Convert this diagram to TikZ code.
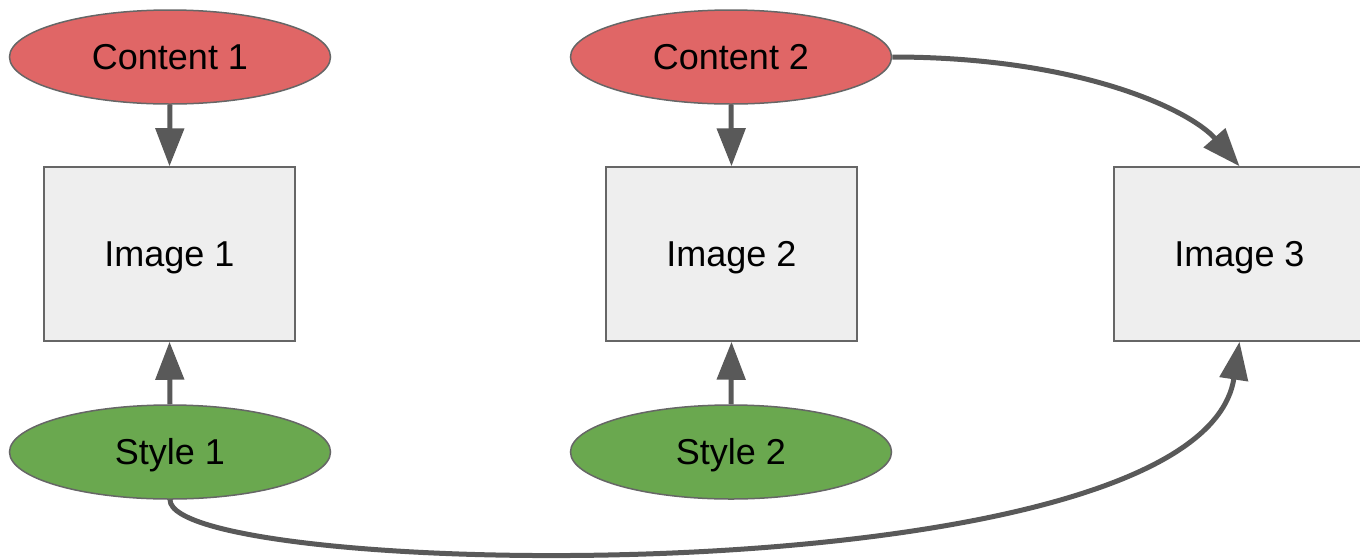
\documentclass[tikz,border=0pt]{standalone}
\usepackage{fontspec}
\setmainfont{Liberation Sans}
\usetikzlibrary{shapes.geometric,arrows.meta}
\definecolor{contentred}{HTML}{E06666}
\definecolor{stylegreen}{HTML}{6AA84F}
\definecolor{imagegray}{HTML}{EEEEEE}
\definecolor{edgegray}{HTML}{595959}
\definecolor{bordergray}{HTML}{666666}
\begin{document}
\begin{tikzpicture}[x=1pt,y=-1pt,
  every node/.style={font=\fontsize{36}{40}\selectfont, text=black, text height=25.8pt, text depth=0pt},
  oval/.style={ellipse, draw=bordergray, line width=1.5pt, minimum width=321pt, minimum height=94pt, inner sep=0pt},
  contentnode/.style={oval, fill=contentred},
  stylenode/.style={oval, fill=stylegreen},
  imagenode/.style={rectangle, draw=bordergray, line width=1.5pt, fill=imagegray, minimum width=251pt, minimum height=174pt, inner sep=0pt},
  link/.style={draw=edgegray, line width=5pt, -{Triangle[length=38pt,width=28pt]}}
]
\useasboundingbox (0,0) rectangle (1360,558);

% source ellipses
\node[contentnode] (c1) at (170,57) {Content 1};
\node[contentnode] (c2) at (731,57) {Content 2};
\node[stylenode] (s1) at (170,452) {Style 1};
\node[stylenode] (s2) at (731,452) {Style 2};

% image boxes
\node[imagenode] (i1) at (169.5,254) {Image 1};
\node[imagenode] (i2) at (731.5,254) {Image 2};
\node[imagenode] (i3) at (1239.5,254) {Image 3};

% straight links
\draw[link] (c1.south) -- (i1.north);
\draw[link] (c2.south) -- (i2.north);
\draw[link] (s1.north) -- (i1.south);
\draw[link] (s2.north) -- (i2.south);

% curved links into the third image
\draw[link] (c2.east) .. controls (1080,57) and (1190,110) .. (i3.north);
\draw[link] (s1.south) .. controls (170,580) and (1200,600) .. (i3.south);
\end{tikzpicture}
\end{document}
